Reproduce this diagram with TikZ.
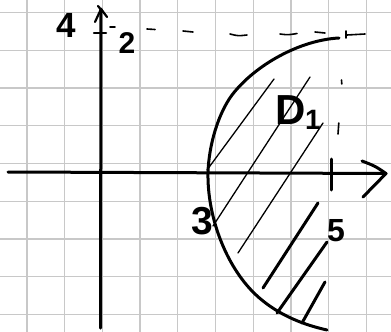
\documentclass[tikz,border=0pt]{standalone}
\usepackage{fontspec}
\setmainfont{Liberation Sans}
\begin{document}
\begin{tikzpicture}[x=1pt,y=-1pt,
  gridline/.style={draw={rgb,255:red,200;green,200;blue,200}, line width=1.3pt},
  ink/.style={line width=3pt, line cap=round, line join=round},
  thinhatch/.style={line width=1.3pt, line cap=round},
  thickhatch/.style={line width=3pt, line cap=round},
  dashmark/.style={line width=1.6pt, line cap=round},
  lbl/.style={inner sep=0pt, anchor=center}]
\useasboundingbox (0,0) rectangle (391,332);
\fill[white] (0,0) rectangle (391,332);
% grid paper
\foreach \i in {0,...,9} \draw[gridline] ({27+37.7*\i},0) -- ({27+37.7*\i},332);
\foreach \j in {0,...,8} \draw[gridline] (0,{12.7+37.7*\j}) -- (391,{12.7+37.7*\j});
% axes
\coordinate (xl) at (8,172);
\coordinate (xr) at (386,173.5);
\coordinate (yb) at (100.5,328);
\coordinate (yt) at (101,9);
\draw[ink] (xl) -- (xr);
\draw[ink] (yb) -- (yt);
\coordinate (xa1) at (362,161);
\coordinate (xa2) at (363,197);
\draw[ink] (xa1) .. controls (375,166) .. (xr) -- (xa2);
\coordinate (ya1) at (95,22);
\coordinate (ya2) at (107,17);
\coordinate (ya0) at (98,6);
\draw[ink, line width=2.2pt] (ya1) -- (yt) -- (ya2);
\draw[ink, line width=2.2pt] (ya0) -- (103,12);
% tick at y = 2
\coordinate (t2a) at (94,33);
\coordinate (t2b) at (106,33);
\draw[ink, line width=2.5pt] (t2a) -- (t2b);
% tick at x = 5
\coordinate (t5a) at (331.7,159);
\coordinate (t5b) at (331.7,190);
\draw[ink] (t5a) -- (t5b);
% dashed horizontal guide at y = 2
\draw[dashmark] (110,27) -- (115,27);
\draw[dashmark] (147,29) -- (155,29.5);
\draw[dashmark] (183,31) -- (193,32);
\draw[dashmark] (230,34) .. controls (238,36) .. (247,35);
\draw[dashmark] (280,34) .. controls (288,35) .. (297,33.5);
\draw[dashmark] (315,32) -- (325,33);
\draw[dashmark] (346,31) -- (346,38);
\draw[dashmark] (347,35) -- (365,34);
% dashed vertical guide at x = 5
\draw[dashmark] (341.5,80) -- (341.8,84);
\draw[dashmark] (338.8,123) -- (338,134);
% boundary curve
\coordinate (ctop) at (339,38);
\coordinate (cmid) at (208,172);
\coordinate (cbot) at (327,330);
\draw[ink] (ctop) .. controls (300,40) and (255,65) .. (232,95)
  .. controls (218,114) and (209,145) .. (cmid)
  .. controls (207,215) and (225,265) .. (255,294)
  .. controls (275,313) and (300,324) .. (cbot);
% hatching
\draw[thinhatch] (274,79) -- (207,170);
\draw[thinhatch] (310,77) -- (213,226);
\draw[thinhatch] (323,123) -- (238,253);
\draw[thickhatch] (318,203) -- (263,288);
\draw[thickhatch] (327,242) -- (277,313);
\draw[thickhatch] (325,282) -- (302,323);
% labels
\node[lbl, font=\fontsize{35}{35}\selectfont\bfseries] (ylab) at (66,25) {4};
\node[lbl, font=\fontsize{30}{30}\selectfont\bfseries] (two) at (127,43) {2};
\node[lbl, font=\fontsize{39}{39}\selectfont\bfseries] (three) at (202,221) {3};
\node[lbl, font=\fontsize{32}{32}\selectfont\bfseries] (five) at (336,231) {5};
\node[lbl, font=\fontsize{42}{42}\selectfont\bfseries] (dlab) at (291,110) {D};
\node[lbl, font=\fontsize{28}{28}\selectfont\bfseries] (dsub) at (313,120) {1};
\end{tikzpicture}
\end{document}
